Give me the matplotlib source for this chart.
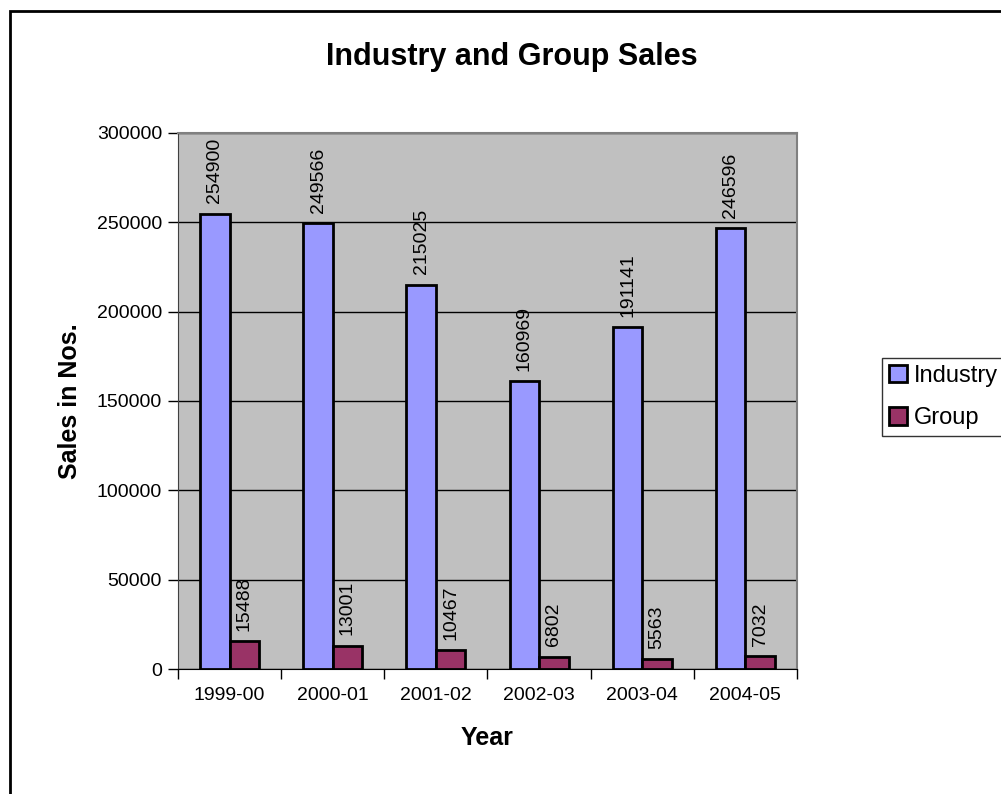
import matplotlib.pyplot as plt
import matplotlib.patches as patches
import numpy as np

plt.rcParams['font.family'] = ['Liberation Sans', 'DejaVu Sans']

years = ['1999-00', '2000-01', '2001-02', '2002-03', '2003-04', '2004-05']
industry = [254900, 249566, 215025, 160969, 191141, 246596]
group = [15488, 13001, 10467, 6802, 5563, 7032]

fig = plt.figure(figsize=(10.01, 7.94), dpi=100)
ax = fig.add_axes([178 / 1001, 1 - 669 / 794, 619 / 1001, 536 / 794])
ax.set_facecolor('#C0C0C0')

x = np.arange(len(years))
w = 1 / 3.5
b1 = ax.bar(x - w / 2, industry, w, color='#9999FF', edgecolor='black', linewidth=2, label='Industry', zorder=3)
b2 = ax.bar(x + w / 2, group, w, color='#993366', edgecolor='black', linewidth=2, label='Group', zorder=3)

# 막대 위 값 표시 (세로)
for bars, vals in [(b1, industry), (b2, group)]:
    for r, v in zip(bars, vals):
        ax.annotate(str(v), (r.get_x() + r.get_width() / 2, v), xytext=(0, 7.5),
                    textcoords='offset points', rotation=90, ha='center', va='bottom',
                    fontsize=14, zorder=4)

ax.set_xlim(-0.5, len(years) - 0.5)
ax.set_ylim(0, 300000)
ax.set_yticks(range(0, 300001, 50000))
ax.yaxis.grid(True, color='black', linewidth=1, zorder=1)
ax.set_axisbelow(True)

ax.set_xticks(x)
ax.set_xticklabels(years)
ax.set_xticks(np.arange(-0.5, len(years)), minor=True)
ax.tick_params(axis='x', which='major', length=0, pad=13, labelsize=14)
ax.tick_params(axis='x', which='minor', length=7, width=1, direction='out')
ax.tick_params(axis='y', length=7, width=1, direction='out', pad=4.5, labelsize=14)

for s in ['top', 'right']:
    ax.spines[s].set_color('#808080')
    ax.spines[s].set_linewidth(1.5)
ax.spines['left'].set_color('#404040')
ax.spines['bottom'].set_color('black')

ax.set_xlabel('Year', fontsize=18, fontweight='bold', labelpad=16)
ax.set_ylabel('Sales in Nos.', fontsize=18, fontweight='bold', labelpad=10.5)
fig.text(512 / 1001, 1 - 57 / 794, 'Industry and Group Sales', fontsize=22, fontweight='bold',
         ha='center', va='center')

leg = fig.legend(handles=[b1, b2], loc='upper left', bbox_to_anchor=(882 / 1001, 1 - 358 / 794),
                 fontsize=17, frameon=True, fancybox=False, edgecolor='black',
                 handlelength=0.75, handleheight=0.75, handletextpad=0.3,
                 borderpad=0.3, labelspacing=0.85, borderaxespad=0)
leg.get_frame().set_linewidth(1)

# 차트 외곽선
fig.patches.append(patches.Rectangle((10 / 1001, -0.1), 1.2, 1.1 - 11 / 794, transform=fig.transFigure,
                                     fill=False, edgecolor='black', linewidth=2))

plt.savefig('out.png', dpi=100)
